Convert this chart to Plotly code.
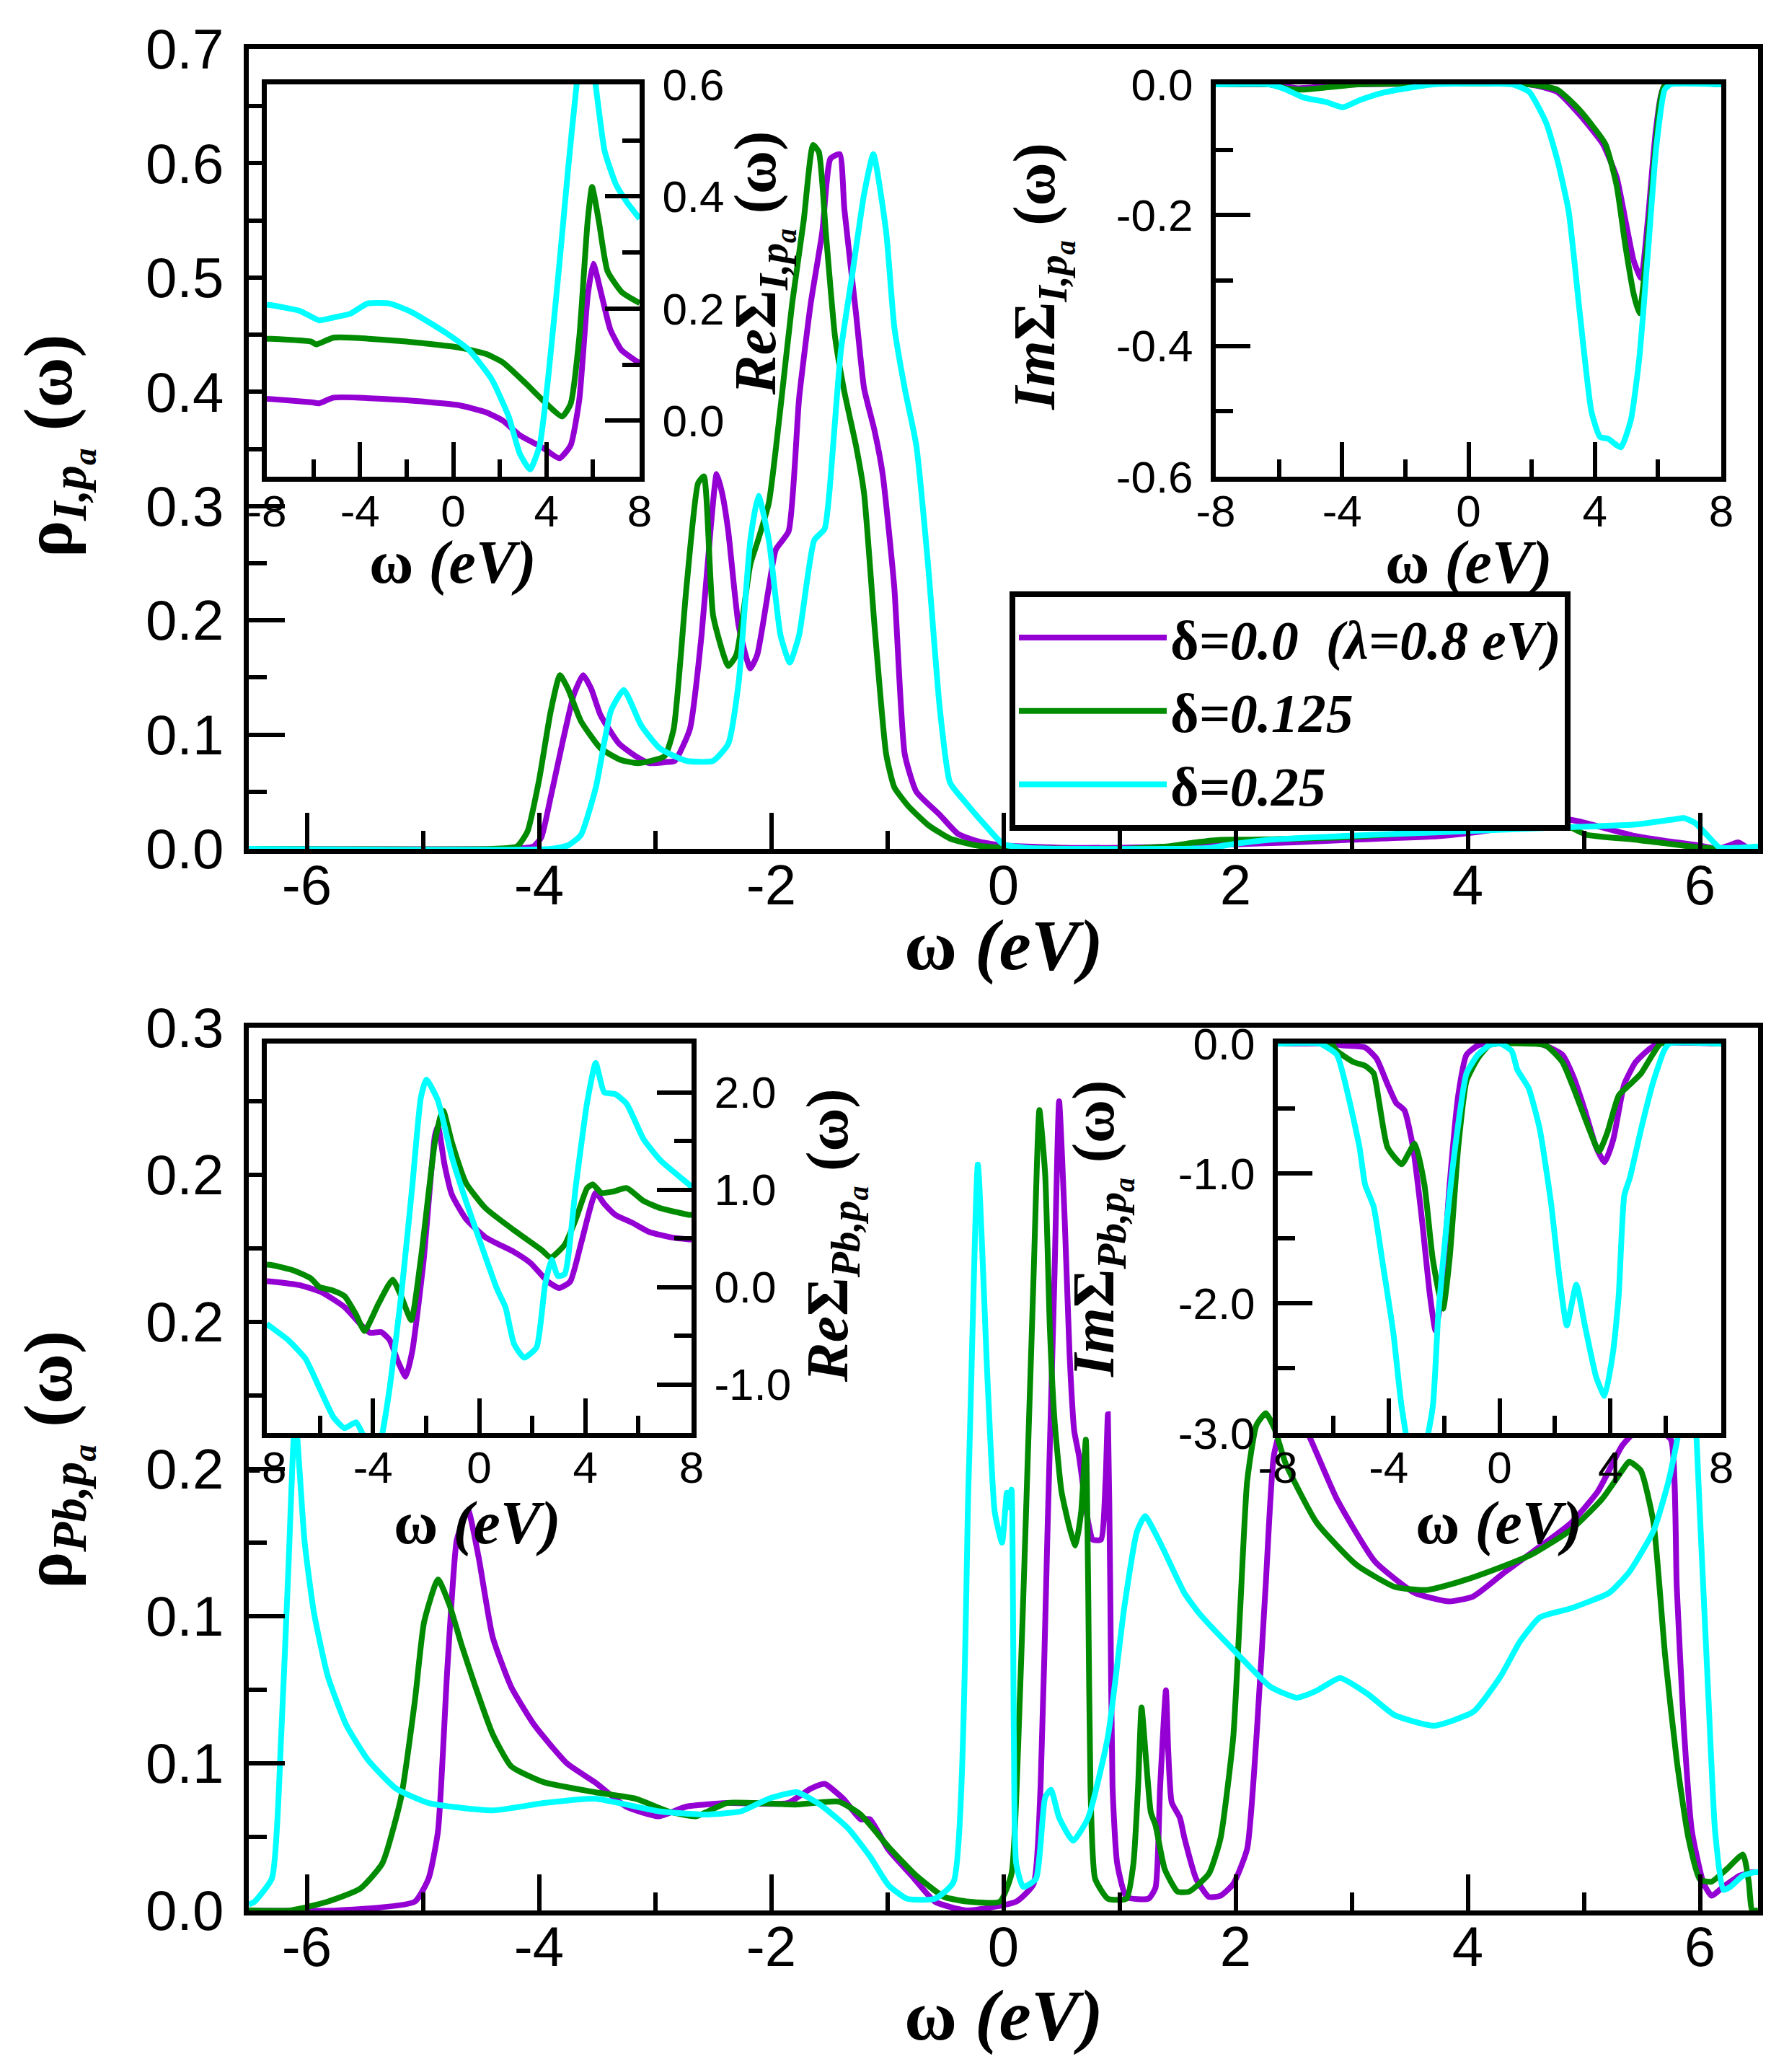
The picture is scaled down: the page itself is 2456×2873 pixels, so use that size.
import plotly.graph_objects as go

# colours of the three doping levels
colors = ["#9400D3", "#008B00", "#00FFFF"]
names = ["δ<i>=0.0\u00a0\u00a0(λ=0.8 eV)</i>", "δ<i>=0.125</i>", "δ<i>=0.25</i>"]

# ---- upper panel: rho_I,pa ----
rI_x0 = [-6.5, -4.3, -4.05, -3.98, -3.9, -3.8, -3.7, -3.62, -3.55, -3.47, -3.31, -3.15, -3.05, -2.9, -2.83, -2.7, -2.6,
         -2.52, -2.47, -2.42, -2.37, -2.28, -2.18, -2.12, -2.02, -1.96, -1.85, -1.76, -1.66, -1.56, -1.49, -1.41, -1.37,
         -1.27, -1.2, -1.11, -1.04, -0.94, -0.85, -0.75, -0.55, -0.39, -0.2, 0.0, 0.5, 1.0, 1.5, 2.0, 2.5, 3.0, 3.76,
         4.1, 4.39, 4.68, 4.85, 5.02, 5.44, 5.7, 5.99, 6.16, 6.25, 6.33, 6.41, 6.5]
rI_y0 = [0, 0, 0.002, 0.01, 0.045, 0.092, 0.135, 0.152, 0.14, 0.117, 0.092, 0.08, 0.075, 0.076, 0.077, 0.105, 0.187,
         0.282, 0.328, 0.31, 0.278, 0.195, 0.158, 0.17, 0.229, 0.262, 0.278, 0.394, 0.477, 0.54, 0.604, 0.608, 0.56,
         0.469, 0.403, 0.366, 0.328, 0.229, 0.083, 0.05, 0.03, 0.013, 0.006, 0.003, 0.001, 0.001, 0.002, 0.004, 0.0057,
         0.008, 0.0112, 0.015, 0.02, 0.028, 0.026, 0.0225, 0.0112, 0.007, 0.003, 0.0, 0.003, 0.0057, 0.001, 0.0]
rI_x1 = [-6.5, -4.4, -4.19, -4.1, -4.0, -3.9, -3.82, -3.75, -3.64, -3.47, -3.3, -3.15, -2.92, -2.84, -2.73, -2.63, -2.58,
         -2.5, -2.37, -2.3, -2.18, -2.12, -2.02, -1.92, -1.82, -1.72, -1.64, -1.59, -1.53, -1.45, -1.37, -1.27, -1.2,
         -1.11, -1.01, -0.94, -0.82, -0.65, -0.46, -0.23, 0.0, 1.0, 1.4, 1.66, 1.87, 2.08, 2.92, 3.76, 4.18, 4.56, 4.81,
         5.02, 5.44, 5.99, 6.2, 6.5]
rI_y1 = [0, 0, 0.002, 0.015, 0.06, 0.12, 0.152, 0.14, 0.112, 0.088, 0.078, 0.075, 0.081, 0.105, 0.229, 0.32, 0.326,
         0.204, 0.16, 0.17, 0.249, 0.268, 0.303, 0.386, 0.477, 0.55, 0.616, 0.61, 0.54, 0.448, 0.40, 0.353, 0.311,
         0.195, 0.083, 0.054, 0.0375, 0.021, 0.009, 0.003, 0.001, 0.0, 0.002, 0.0057, 0.0079, 0.008, 0.0101, 0.0158,
         0.0225, 0.028, 0.0225, 0.0124, 0.0081, 0.0012, 0.0, 0.0]
rI_x2 = [-6.5, -3.9, -3.75, -3.64, -3.51, -3.38, -3.27, -3.12, -2.96, -2.73, -2.5, -2.37, -2.28, -2.18, -2.11, -2.02,
         -1.92, -1.84, -1.76, -1.63, -1.54, -1.5, -1.4, -1.3, -1.2, -1.12, -1.01, -0.94, -0.85, -0.75, -0.65, -0.55,
         -0.46, -0.33, -0.16, 0.0, 0.19, 0.5, 1.5, 1.79, 2.0, 2.29, 2.92, 3.76, 4.6, 5.44, 5.78, 5.86, 5.96, 6.07, 6.17,
         6.33, 6.5]
rI_y2 = [0, 0, 0.003, 0.012, 0.054, 0.121, 0.139, 0.108, 0.088, 0.077, 0.077, 0.092, 0.146, 0.27, 0.309, 0.27, 0.187,
         0.163, 0.187, 0.27, 0.28, 0.311, 0.436, 0.504, 0.573, 0.608, 0.54, 0.457, 0.403, 0.353, 0.25, 0.125, 0.058,
         0.041, 0.021, 0.004, 0.001, 0.0, 0.0, 0.001, 0.0045, 0.0079, 0.0112, 0.0145, 0.018, 0.0213, 0.0259, 0.027,
         0.0225, 0.011, 0.001, 0.001, 0.002]

# ---- lower panel: rho_Pb,pa ----
rPb_x0 = [-6.5, -5.74, -5.07, -4.95, -4.87, -4.79, -4.71, -4.65, -4.61, -4.52, -4.4, -4.24, -4.04, -3.76, -3.52, -3.25,
          -2.97, -2.73, -2.38, -1.86, -1.66, -1.54, -1.38, -1.23, -1.15, -0.99, -0.79, -0.59, -0.32, 0.11, 0.26, 0.32,
          0.38, 0.44, 0.48, 0.53, 0.57, 0.61, 0.65, 0.73, 0.77, 0.84, 0.88, 0.9, 0.92, 0.94, 0.98, 1.06, 1.25, 1.31,
          1.35, 1.4, 1.42, 1.45, 1.52, 1.56, 1.66, 1.77, 1.87, 1.98, 2.1, 2.18, 2.26, 2.33, 2.42, 2.5, 2.56, 2.63, 2.87,
          3.2, 3.54, 3.84, 4.05, 4.32, 4.55, 4.89, 5.12, 5.33, 5.45, 5.55, 5.65, 5.75, 5.8, 5.86, 5.93, 6.03, 6.1, 6.2,
          6.34, 6.45, 6.5]
rPb_y0 = [0, 0, 0.003, 0.011, 0.027, 0.082, 0.1256, 0.133, 0.136, 0.12, 0.093, 0.076, 0.063, 0.05, 0.0436, 0.0353,
          0.032, 0.0353, 0.0365, 0.0365, 0.0414, 0.043, 0.038, 0.031, 0.031, 0.0206, 0.0118, 0.003, 0.0, 0.003, 0.009,
          0.042, 0.129, 0.2155, 0.275, 0.2327, 0.189, 0.163, 0.1547, 0.132, 0.126, 0.126, 0.146, 0.1686, 0.111, 0.042,
          0.016, 0.0046, 0.004, 0.0077, 0.042, 0.0748, 0.054, 0.0367, 0.0315, 0.0245, 0.0108, 0.0046, 0.005, 0.009,
          0.021, 0.059, 0.111, 0.1547, 0.167, 0.168, 0.166, 0.1615, 0.14, 0.1186, 0.108, 0.105, 0.1068, 0.115, 0.1216,
          0.1317, 0.1424, 0.158, 0.163, 0.164, 0.163, 0.16, 0.11, 0.0628, 0.027, 0.0093, 0.005, 0.008, 0.0118, 0.013,
          0.013]
rPb_x1 = [-6.5, -6.14, -5.82, -5.54, -5.35, -5.19, -5.07, -4.99, -4.87, -4.77, -4.67, -4.55, -4.4, -4.24, -3.96, -3.52,
          -3.17, -2.89, -2.65, -2.38, -1.78, -1.42, -1.23, -0.99, -0.75, -0.51, -0.3, -0.03, 0.07, 0.13, 0.19, 0.26,
          0.31, 0.36, 0.4, 0.44, 0.5, 0.57, 0.62, 0.67, 0.71, 0.73, 0.75, 0.79, 0.9, 1.06, 1.12, 1.16, 1.19, 1.23, 1.27,
          1.31, 1.39, 1.5, 1.6, 1.77, 1.87, 1.98, 2.04, 2.1, 2.18, 2.26, 2.34, 2.43, 2.7, 3.04, 3.37, 3.64, 3.91, 4.22,
          4.55, 4.89, 5.16, 5.33, 5.39, 5.49, 5.6, 5.7, 5.8, 5.9, 6.0, 6.1, 6.23, 6.37, 6.42, 6.45, 6.5]
rPb_y1 = [0, 0.0, 0.003, 0.0074, 0.016, 0.038, 0.071, 0.098, 0.1125, 0.1037, 0.0906, 0.0763, 0.06, 0.049, 0.0436,
          0.0402, 0.038, 0.0337, 0.032, 0.0365, 0.036, 0.037, 0.0326, 0.0216, 0.0118, 0.0046, 0.003, 0.003, 0.0125,
          0.059, 0.129, 0.2155, 0.272, 0.25, 0.198, 0.1668, 0.1425, 0.13, 0.124, 0.1355, 0.16, 0.111, 0.042, 0.0108,
          0.004, 0.004, 0.016, 0.042, 0.069, 0.0506, 0.0333, 0.029, 0.014, 0.0064, 0.0064, 0.0125, 0.0245, 0.059,
          0.1027, 0.146, 0.165, 0.169, 0.1633, 0.152, 0.1317, 0.1175, 0.11, 0.1089, 0.1115, 0.1157, 0.121, 0.1294, 0.14,
          0.1495, 0.1525, 0.1495, 0.1317, 0.0865, 0.051, 0.0247, 0.0105, 0.0098, 0.014, 0.019, 0.0098, 0.0, 0.0]
rPb_x2 = [-6.5, -6.45, -6.3, -6.22, -6.16, -6.1, -6.02, -5.94, -5.82, -5.66, -5.47, -5.23, -4.95, -4.4, -3.96, -3.52,
          -3.25, -2.97, -2.57, -2.26, -2.02, -1.78, -1.58, -1.34, -1.15, -0.99, -0.83, -0.59, -0.43, -0.3, -0.22,
          -0.137, -0.075, -0.012, 0.03, 0.05, 0.07, 0.09, 0.11, 0.17, 0.28, 0.36, 0.41, 0.48, 0.6, 0.73, 0.9, 1.04,
          1.15, 1.22, 1.35, 1.56, 1.69, 2.03, 2.3, 2.53, 2.7, 2.9, 3.14, 3.37, 3.71, 4.05, 4.28, 4.45, 4.62, 4.89, 5.22,
          5.39, 5.6, 5.73, 5.83, 5.9, 5.96, 6.0, 6.07, 6.13, 6.2, 6.26, 6.37, 6.47, 6.5]
rPb_y2 = [0.002, 0.003, 0.011, 0.06, 0.115, 0.168, 0.1256, 0.1015, 0.0797, 0.063, 0.051, 0.0414, 0.0365, 0.034, 0.0365,
          0.038, 0.036, 0.0337, 0.0326, 0.0337, 0.038, 0.0402, 0.036, 0.028, 0.0184, 0.0086, 0.004, 0.004, 0.0096, 0.146,
          0.2535, 0.1806, 0.1355, 0.125, 0.142, 0.137, 0.143, 0.059, 0.016, 0.008, 0.0107, 0.0385, 0.041, 0.0315,
          0.0237, 0.0315, 0.059, 0.1027, 0.1287, 0.134, 0.125, 0.1078, 0.1008, 0.0866, 0.076, 0.0723, 0.0747, 0.079,
          0.0735, 0.0664, 0.0628, 0.0676, 0.0794, 0.0914, 0.0996, 0.1027, 0.108, 0.115, 0.129, 0.146, 0.166, 0.22, 0.17,
          0.134, 0.0748, 0.027, 0.007, 0.008, 0.0118, 0.013, 0.013]

# ---- inset: Re Sigma_I,pa ----
reI_x0 = [-8, -7.8, -6.1, -5.75, -5.14, -2.23, 0.19, 1.41, 2.13, 2.86, 3.83, 4.56, 5.04, 5.41, 5.77, 6.01, 6.38, 6.74,
          7.22, 7.95, 8]
reI_y0 = [0.039, 0.0385, 0.033, 0.031, 0.041, 0.037, 0.028, 0.015, 0.0, -0.026, -0.048, -0.067, -0.044, 0.037, 0.222,
          0.28, 0.222, 0.163, 0.126, 0.104, 0.103]
reI_x1 = [-8, -7.8, -6.1, -5.87, -5.14, -2.23, 0.19, 1.41, 2.13, 3.1, 3.83, 4.68, 5.04, 5.41, 5.77, 5.96, 6.25, 6.62,
          7.22, 7.95, 8]
reI_y1 = [0.146, 0.146, 0.141, 0.136, 0.148, 0.142, 0.131, 0.119, 0.104, 0.067, 0.037, 0.0074, 0.03, 0.148, 0.356,
          0.417, 0.356, 0.267, 0.23, 0.211, 0.21]
reI_x2 = [-8, -7.8, -6.59, -5.75, -5.14, -4.41, -3.68, -2.72, -1.75, -0.29, 0.68, 1.65, 2.38, 2.86, 3.3, 3.71, 4.07,
          4.56, 4.92, 5.28, 5.7, 6.13, 6.5, 6.98, 7.47, 7.95, 8]
reI_y2 = [0.207, 0.206, 0.196, 0.179, 0.184, 0.191, 0.209, 0.209, 0.193, 0.156, 0.126, 0.074, 0.0074, -0.059, -0.087,
          -0.044, 0.074, 0.281, 0.444, 0.593, 0.72, 0.593, 0.481, 0.422, 0.389, 0.363, 0.36]

# ---- inset: Im Sigma_I,pa ----
imI_x0 = [-8, -6.3, -5.4, -4.3, -3.5, 1.92, 2.81, 3.53, 4.25, 4.69, 4.96, 5.23, 5.46, 5.68, 5.94, 6.21, 8]
imI_y0 = [0, 0, -0.006, -0.002, 0, 0, -0.0115, -0.047, -0.091, -0.142, -0.206, -0.27, -0.296, -0.206, -0.066, -0.002, 0]
imI_x1 = [-8, -6.3, -5.77, -5.23, -4.34, -3.5, 1.92, 2.81, 3.53, 4.33, 4.69, 4.96, 5.23, 5.41, 5.68, 5.94, 6.21, 8]
imI_y1 = [0, 0, -0.0064, -0.008, -0.004, 0, 0, -0.008, -0.04, -0.091, -0.155, -0.245, -0.321, -0.35, -0.232, -0.085,
          -0.002, 0]
imI_x2 = [-8, -6.3, -5.77, -5.23, -4.51, -3.98, -3.44, -2.73, -1.83, -1.12, 1.39, 1.92, 2.46, 2.82, 3.17, 3.53, 3.89,
          4.16, 4.42, 4.82, 5.14, 5.41, 5.68, 5.94, 6.21, 6.39, 8]
imI_y2 = [0, 0, -0.008, -0.02, -0.027, -0.035, -0.024, -0.013, -0.005, 0, 0, -0.0115, -0.059, -0.117, -0.194, -0.353,
          -0.5, -0.539, -0.542, -0.555, -0.513, -0.417, -0.257, -0.098, -0.008, 0, 0]

# ---- inset: Re Sigma_Pb,pa ----
rePb_x0 = [-8, -7.83, -6.77, -5.92, -5.07, -4.43, -4.11, -3.69, -3.37, -3.05, -2.77, -2.52, -2.09, -1.67, -1.55, -1.3,
           -1.03, -0.5, 0.24, 1.31, 1.94, 2.58, 3.01, 3.43, 3.86, 4.39, 4.71, 5.13, 5.77, 6.41, 7.26, 7.9, 8]
rePb_y0 = [0.06, 0.056, 0.019, -0.056, -0.207, -0.395, -0.47, -0.463, -0.546, -0.77, -0.92, -0.66, 0.28, 1.55, 1.65,
           1.25, 0.95, 0.70, 0.51, 0.36, 0.245, 0.056, -0.011, 0.056, 0.47, 0.967, 0.854, 0.741, 0.659, 0.565, 0.508,
           0.489, 0.487]
rePb_x1 = [-8, -7.83, -6.98, -6.34, -6.02, -5.49, -5.07, -4.64, -4.32, -3.79, -3.26, -2.94, -2.56, -2.2, -1.67, -1.46,
           -1.35, -1.03, -0.5, 0.24, 1.31, 2.37, 2.69, 3.22, 3.64, 4.07, 4.28, 4.6, 5.03, 5.56, 6.19, 6.83, 7.9, 8]
rePb_y1 = [0.23, 0.226, 0.169, 0.087, 0.0, -0.038, -0.094, -0.282, -0.452, -0.17, 0.075, -0.094, -0.339, 0.282, 1.487,
           1.75, 1.81, 1.487, 1.07, 0.809, 0.583, 0.376, 0.301, 0.433, 0.696, 1.016, 1.054, 0.967, 0.979, 1.016, 0.884,
           0.809, 0.741, 0.74]
rePb_x2 = [-8, -7.83, -7.19, -6.55, -6.02, -5.49, -5.07, -4.64, -4.32, -4.0, -3.69, -3.37, -2.94, -2.52, -2.2, -1.99,
           -1.56, -1.03, -0.5, 0.03, 0.67, 0.99, 1.31, 1.69, 2.16, 2.48, 2.73, 2.96, 3.22, 3.64, 4.07, 4.39, 4.71, 5.13,
           5.56, 6.19, 6.83, 7.9, 8]
rePb_y2 = [-0.38, -0.414, -0.546, -0.734, -1.035, -1.336, -1.45, -1.39, -1.55, -1.7, -1.55, -1.035, -0.094, 1.035, 1.94,
           2.13, 1.92, 1.336, 0.884, 0.47, -0.019, -0.207, -0.583, -0.726, -0.621, 0.019, 0.282, 0.113, 0.132, 1.035,
           1.9, 2.3, 2.0, 1.98, 1.88, 1.52, 1.30, 1.054, 1.03]

# ---- inset: Im Sigma_Pb,pa ----
imPb_x0 = [-8, -6.07, -5.66, -4.85, -4.44, -4.04, -3.73, -3.43, -3.12, -2.82, -2.51, -2.31, -2.1, -1.8, -1.49, -1.19,
           -0.78, -0.38, 1.45, 2.27, 2.67, 3.08, 3.49, 3.79, 4.1, 4.5, 4.91, 5.32, 5.72, 8]
imPb_y0 = [0, 0, -0.014, -0.03, -0.114, -0.314, -0.457, -0.514, -0.8, -1.314, -1.94, -2.21, -1.94, -1.086, -0.4,
           -0.086, -0.014, 0, 0, -0.086, -0.257, -0.514, -0.8, -0.914, -0.743, -0.314, -0.143, -0.057, 0, 0]
imPb_x1 = [-8, -6.07, -5.87, -5.26, -4.85, -4.54, -4.34, -4.04, -3.53, -3.06, -2.71, -2.41, -2.04, -1.8, -1.49, -1.19,
           -0.78, -0.38, -0.07, 1.66, 2.27, 2.67, 3.18, 3.59, 3.89, 4.3, 4.71, 5.11, 5.52, 5.82, 8]
imPb_y1 = [0, 0, -0.057, -0.143, -0.171, -0.229, -0.457, -0.8, -0.929, -0.771, -1.086, -1.657, -2.043, -1.657, -0.8,
           -0.286, -0.114, -0.014, 0, -0.014, -0.143, -0.343, -0.629, -0.829, -0.686, -0.4, -0.314, -0.229, -0.086, 0, 0]
imPb_x2 = [-8, -6.5, -5.87, -5.46, -5.05, -4.85, -4.54, -4.24, -3.83, -3.53, -3.0, -2.41, -2.21, -1.9, -1.6, -1.19,
           -0.78, -0.38, 0.03, 0.44, 0.64, 1.05, 1.45, 1.86, 2.16, 2.43, 2.77, 3.08, 3.49, 3.79, 4.1, 4.3, 4.5, 4.71,
           5.11, 5.52, 5.93, 6.13, 8]
imPb_y2 = [0, 0, -0.086, -0.4, -0.8, -1.086, -1.257, -1.657, -2.23, -2.8, -3.4, -2.8, -2.086, -1.371, -0.8, -0.229,
           -0.086, -0.014, 0, -0.057, -0.2, -0.343, -0.657, -1.229, -1.8, -2.171, -1.857, -2.171, -2.571, -2.714,
           -2.371, -1.943, -1.171, -1.029, -0.657, -0.314, -0.057, 0, 0]

panels = [
    ("x", "y", [(rI_x0, rI_y0), (rI_x1, rI_y1), (rI_x2, rI_y2)]),
    ("x2", "y2", [(rPb_x0, rPb_y0), (rPb_x1, rPb_y1), (rPb_x2, rPb_y2)]),
    ("x3", "y3", [(reI_x0, reI_y0), (reI_x1, reI_y1), (reI_x2, reI_y2)]),
    ("x4", "y4", [(imI_x0, imI_y0), (imI_x1, imI_y1), (imI_x2, imI_y2)]),
    ("x5", "y5", [(rePb_x0, rePb_y0), (rePb_x1, rePb_y1), (rePb_x2, rePb_y2)]),
    ("x6", "y6", [(imPb_x0, imPb_y0), (imPb_x1, imPb_y1), (imPb_x2, imPb_y2)]),
]

fig = go.Figure()
for p, (xa, ya, series) in enumerate(panels):
    for i, (xs, ys) in enumerate(series):
        fig.add_trace(go.Scatter(
            x=xs, y=ys, mode="lines", xaxis=xa, yaxis=ya,
            line=dict(color=colors[i], width=8, shape="spline", smoothing=0.5),
            name=names[i], legendgroup=str(i), showlegend=(p == 0),
        ))

W, H = 2456, 2873
tickfont_main = dict(family="Liberation Sans, Arial", size=78, color="black")
tickfont_in = dict(family="Liberation Sans, Arial", size=62, color="black")


def ticks(lo, hi, step, fmt):
    # tick values with plain hyphen minus signs as in the original figure
    n = int(round((hi - lo) / step))
    vals = [round(lo + k * step, 6) for k in range(n + 1)]
    vals = [0.0 if abs(v) < 1e-9 else v for v in vals]
    return vals, [format(v, fmt) for v in vals]


def ax(domain, rng, tv, minor_dtick, font, ticklen, standoff=12, **kw):
    d = dict(domain=domain, range=rng, tickmode="array", tickvals=tv[0], ticktext=tv[1],
             showline=True, linewidth=7, linecolor="black", mirror=True,
             ticks="inside", ticklen=ticklen, tickwidth=6, tickcolor="black",
             minor=dict(ticks="inside", ticklen=ticklen // 2, tickwidth=6, tickcolor="black",
                        dtick=minor_dtick, tick0=0),
             showgrid=False, zeroline=False, tickfont=font, ticklabelstandoff=standoff,
             automargin=False)
    d.update(kw)
    return d


def px(a, b):
    return [a / W, b / W]


def py(top, bottom):
    return [1 - bottom / H, 1 - top / H]


xmain = ticks(-6, 6, 2, ".0f")
xin = ticks(-8, 8, 4, ".0f")
fig.update_layout(
    width=W, height=H, margin=dict(l=0, r=0, t=0, b=0),
    paper_bgcolor="white", plot_bgcolor="white",
    xaxis=ax(px(337, 2430), [-6.5, 6.5], xmain, 1, tickfont_main, 50, -24, anchor="y"),
    yaxis=ax(py(60, 1169), [0, 0.7], ticks(0, 0.7, 0.1, ".1f"), 0.05, tickfont_main, 50, anchor="x"),
    xaxis2=ax(px(337, 2430), [-6.5, 6.5], xmain, 1, tickfont_main, 50, -24, anchor="y2"),
    yaxis2=ax(py(1417, 2641), [0, 0.3],
              ([0, 0.05, 0.1, 0.15, 0.2, 0.25, 0.3], ["0.0", "0.1", "0.1", "0.2", "0.2", "0.2", "0.3"]),
              0.025, tickfont_main, 50, anchor="x2"),
    xaxis3=ax(px(362, 879), [-8, 8], xin, 2, tickfont_in, 48, -12, anchor="y3"),
    yaxis3=ax(py(109, 653), [-0.1, 0.6], ticks(0, 0.6, 0.2, ".1f"), 0.1, tickfont_in, 48, anchor="x3",
              side="right"),
    xaxis4=ax(px(1678, 2379), [-8, 8], xin, 2, tickfont_in, 48, -12, anchor="y4"),
    yaxis4=ax(py(109, 653), [-0.6, 0.0], ticks(-0.6, 0, 0.2, ".1f"), 0.1, tickfont_in, 48, anchor="x4"),
    xaxis5=ax(px(362, 951), [-8, 8], xin, 2, tickfont_in, 48, -12, anchor="y5"),
    yaxis5=ax(py(1439, 1979), [-1.5, 2.5], ticks(-1, 2, 1, ".1f"), 0.5, tickfont_in, 48, anchor="x5",
              side="right"),
    xaxis6=ax(px(1764, 2379), [-8, 8], xin, 2, tickfont_in, 48, -12, anchor="y6"),
    yaxis6=ax(py(1439, 1979), [-3.0, 0.0], ticks(-3, 0, 1, ".1f"), 0.5, tickfont_in, 48, anchor="x6"),
    legend=dict(x=1392 / W, y=1 - 812 / H, xanchor="left", yanchor="top",
                bgcolor="white", bordercolor="black", borderwidth=8,
                font=dict(family="Liberation Serif", size=76, color="black", weight="bold"),
                itemwidth=205, tracegroupgap=0),
)

serif = "Liberation Serif"
xtitle = "<b>ω\u00a0<i>(eV)</i></b>"
labels = [
    (1384, 1302, xtitle, 100, 0),
    (1384, 2786, xtitle, 100, 0),
    (70, 610, "<b>ρ<sub><i>I,p<sub>a</sub></i></sub>\u00a0(ω)</b>", 96, -90),
    (70, 2016, "<b>ρ<sub><i>Pb,p<sub>a</sub></i></sub>\u00a0(ω)</b>", 96, -90),
    (620, 772, xtitle, 84, 0),
    (2029, 772, xtitle, 84, 0),
    (654, 2104, xtitle, 84, 0),
    (2071, 2104, xtitle, 84, 0),
    (1050, 357, "<b><i>Re</i>Σ<sub><i>I,p<sub>a</sub></i></sub>\u00a0(ω)</b>", 82, -90),
    (1436, 376, "<b><i>Im</i>Σ<sub><i>I,p<sub>a</sub></i></sub>\u00a0(ω)</b>", 82, -90),
    (1149, 1705, "<b><i>Re</i>Σ<sub><i>Pb,p<sub>a</sub></i></sub>\u00a0(ω)</b>", 82, -90),
    (1518, 1696, "<b><i>Im</i>Σ<sub><i>Pb,p<sub>a</sub></i></sub>\u00a0(ω)</b>", 82, -90),
]
for lx, ly, txt, size, ang in labels:
    fig.add_annotation(x=lx / W, y=1 - ly / H, xref="paper", yref="paper", text=txt,
                       showarrow=False, textangle=ang, xanchor="center", yanchor="middle",
                       font=dict(family=serif, size=size, color="black"))

fig.write_html("out.html")
